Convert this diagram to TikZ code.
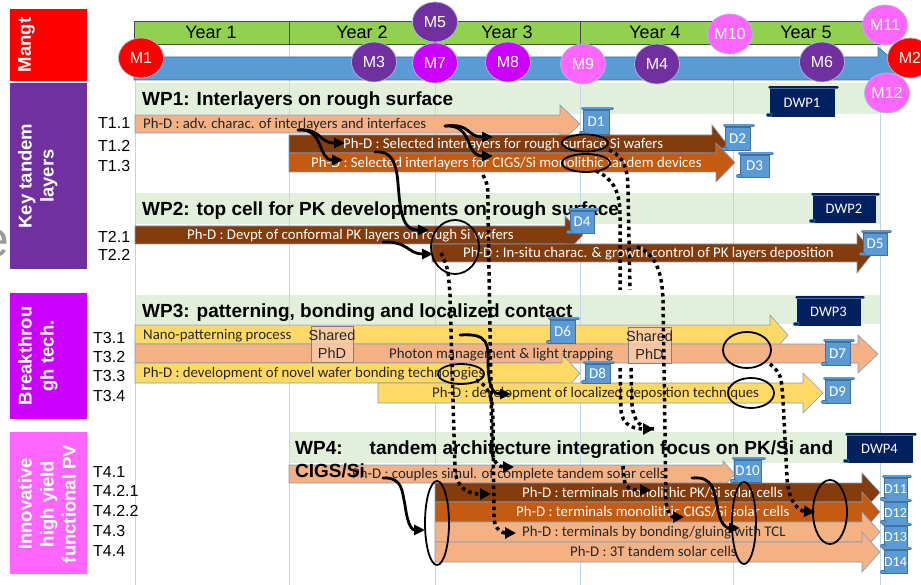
\documentclass[tikz,border=0pt]{standalone}
\usepackage{fontspec}
\setmainfont{Liberation Sans}
\newfontfamily\calfont{Carlito}
\usetikzlibrary{shapes.geometric,arrows.meta,calc}
\definecolor{cRed}{HTML}{FF0000}
\definecolor{cPurple}{HTML}{7030A0}
\definecolor{cMag}{HTML}{CC00FF}
\definecolor{cPink}{HTML}{FF66FF}
\definecolor{cYear}{HTML}{92D050}
\definecolor{cTime}{HTML}{5B9BD5}
\definecolor{cBand}{HTML}{E2EFDA}
\definecolor{cLight}{HTML}{F4B183}
\definecolor{cBrown}{HTML}{843C0C}
\definecolor{cOrange}{HTML}{C55A11}
\definecolor{cYellow}{HTML}{FFD966}
\definecolor{cDoc}{HTML}{5B9BD5}
\definecolor{cDocLine}{HTML}{41719C}
\definecolor{cNavy}{HTML}{002060}
\definecolor{cGrid}{HTML}{BDD7EE}
\definecolor{cBarLine}{HTML}{7F9DC2}
\definecolor{cShared}{HTML}{F8CBAD}
\definecolor{cDark}{HTML}{262626}
\definecolor{cMline}{HTML}{A6BEDC}
\definecolor{cGrayE}{HTML}{9A9A9A}
\definecolor{cYearLine}{HTML}{4A4A4A}
\newcommand{\ganttbar}[8]{\path[ganttbar, fill=#1] (#2,#3) -- (#5,#3) -- (#5,#6) -- (#8,{(#6+#7)/2}) -- (#5,#7) -- (#5,#4) -- (#2,#4) -- cycle;}
\tikzset{
 every node/.style={inner sep=0pt},
 mstone/.style={ellipse, minimum width=45pt, minimum height=40pt, draw=cMline, line width=0.7pt, text=white, font=\fontsize{16}{16}\selectfont, text height=11.5pt, text depth=0pt},
 sidelab/.style={rotate=90, anchor=north, text=white, align=center, font=\bfseries\fontsize{18.5}{22}\selectfont},
 yearlab/.style={font=\fontsize{18}{18}\selectfont, text height=12.9pt, text depth=0pt},
 tasklab/.style={anchor=west, font=\fontsize{16}{16}\selectfont, text height=11.5pt, text depth=0pt},
 wptitle/.style={anchor=base west, font=\bfseries\fontsize{19}{23}\selectfont},
 bartext/.style={anchor=west, font=\calfont\fontsize{14.8}{15}\selectfont, text height=9.5pt, text depth=0pt},
 dk/.style={bartext, text=cDark},
 wh/.style={bartext, text=white},
 ganttbar/.style={draw=cBarLine, line width=0.6pt},
 gridline/.style={draw=cGrid, line width=0.8pt},
 docbox/.style={rectangle, fill=cDoc, draw=cDocLine, line width=0.5pt, text=white, font=\calfont\fontsize{15}{15}\selectfont, text height=9.7pt, text depth=0pt},
 wpbox/.style={docbox, fill=cNavy, draw=cNavy, font=\calfont\fontsize{14.5}{15}\selectfont},
 docstrip/.style={draw=cDocLine, double=cDoc, double distance=2.2pt, line width=0.5pt, line cap=round},
 wpstrip/.style={draw=cDocLine, double=cNavy, double distance=2.2pt, line width=0.5pt, line cap=round},
 ell/.style={ellipse, draw=black, line width=1.8pt},
 conn/.style={draw=black, line width=2.8pt, line cap=round, -{Triangle[length=11pt,width=10pt]}},
 dline/.style={draw=black, line width=3.5pt, dash pattern=on 3.5pt off 3.5pt},
 dconn/.style={dline, -{Triangle[length=11pt,width=11pt]}},
 sharedbox/.style={rectangle, fill=cShared, fill opacity=0.8, draw=gray, line width=0.6pt},
 sharedtext/.style={align=center, font=\fontsize{14.5}{18}\selectfont, text=cDark},
}
\begin{document}
\begin{tikzpicture}[x=1pt,y=-1pt]
\useasboundingbox (0,0) rectangle (921,585);
\fill[white] (0,0) rectangle (921,585);
\node[anchor=base east, text=cGrayE, font=\fontsize{50}{50}\selectfont] (cut) at (10,257) {e};
% side boxes
\fill[cRed] (10,9) rectangle (87,81);
\fill[cPurple] (10,83) rectangle (87,269);
\fill[cMag] (10,293) rectangle (87,419);
\fill[cPink] (10,432) rectangle (87,574);
\node[sidelab] (lmangt) at (18,45) {Mangt};
\node[sidelab] (lkey) at (18,176) {Key tandem\\layers};
\node[sidelab] (lbreak) at (18,356) {Breakthrou\\gh tech.};
\node[sidelab] (linnov) at (18,504) {Innovative\\high yield\\functional PV};
% WP bands
\fill[cBand] (135,83) rectangle (880,114);
\fill[cBand] (135,193) rectangle (880,224);
\fill[cBand] (135,295) rectangle (880,324);
\fill[cBand] (289,432) rectangle (880,463);
% grid
\foreach \gx in {135,289,435,580,733,880} \draw[gridline] (\gx,44) -- (\gx,585);
% timeline
\path[fill=cTime, draw=cDocLine, line width=0.6pt] (134,57) -- (878,57) -- (878,47) -- (903,68.5) -- (878,90) -- (878,80) -- (134,80) -- cycle;
\path[fill=cYear, draw=cYearLine, line width=0.8pt] (134,21) rectangle (880,44);
\foreach \gx in {289,435,580,733} \draw[cYearLine, line width=0.8pt] (\gx,21) -- (\gx,44);
\node[yearlab] (y1) at (211,32) {Year 1};
\node[yearlab] (y2) at (362,32) {Year 2};
\node[yearlab] (y3) at (507,32) {Year 3};
\node[yearlab] (y4) at (655,32) {Year 4};
\node[yearlab] (y5) at (806,32) {Year 5};
% milestones
\node[mstone, fill=cRed] (m1) at (141,58) {M1};
\node[mstone, fill=cPurple] (m3) at (374,62) {M3};
\node[mstone, fill=cPurple] (m5) at (435,22) {M5};
\node[mstone, fill=cMag] (m7) at (435,63) {M7};
\node[mstone, fill=cMag] (m8) at (508,62) {M8};
\node[mstone, fill=cPink] (m9) at (583,64) {M9};
\node[mstone, fill=cPurple] (m4) at (657,64) {M4};
\node[mstone, fill=cPink] (m10) at (730,34) {M10};
\node[mstone, fill=cPurple] (m6) at (822,62) {M6};
\node[mstone, fill=cPink] (m11) at (885,25) {M11};
\node[mstone, fill=cRed] (m2) at (910,58) {M2};
\node[mstone, fill=cPink] (m12) at (887,93) {M12};
% bars
\ganttbar{cLight}{135}{115}{133}{560}{105}{143}{580}
\ganttbar{cBrown}{289}{135}{153}{712}{125}{163}{727}
\ganttbar{cOrange}{289}{153}{172}{716}{143}{182}{735}
\ganttbar{cBrown}{135}{226}{244}{565}{216}{254}{583}
\ganttbar{cBrown}{432}{244}{262}{857}{233}{273}{873}
\ganttbar{cYellow}{135}{325}{344}{770}{315}{355}{788}
\ganttbar{cLight}{135}{344}{363}{858}{335}{373}{878}
\ganttbar{cYellow}{135}{363}{383}{562}{354}{393}{580}
\ganttbar{cYellow}{378}{383}{403}{803}{373}{413}{823}
\ganttbar{cLight}{289}{465}{483}{723}{461}{487}{735}
\ganttbar{cBrown}{435}{483}{502}{862}{473}{512}{880}
\ganttbar{cOrange}{435}{502}{522}{862}{492}{532}{880}
\ganttbar{cLight}{435}{522}{542}{862}{512}{552}{880}
\ganttbar{cLight}{435}{542}{562}{862}{532}{572}{880}
% bar texts
\node[dk] (t11) at (143,124) {Ph-D : adv. charac. of interlayers and interfaces};
\node[wh] (t12) at (343,144) {Ph-D : Selected interlayers for rough surface Si wafers};
\node[wh] (t13) at (311,162.5) {Ph-D : Selected interlayers for CIGS/Si monolithic tandem devices};
\node[wh] (t21) at (187,235) {Ph-D : Devpt of conformal PK layers on rough Si wafers};
\node[wh] (t22) at (463,253) {Ph-D : In-situ charac. \& growth control of PK layers deposition};
\node[dk] (t31) at (143,334.5) {Nano-patterning process};
\node[dk] (t32) at (389,354) {Photon management \& light trapping};
\node[dk] (t33) at (143,373) {Ph-D : development of novel wafer bonding technologies};
\node[dk] (t34) at (432,393) {Ph-D : development of localized deposition techniques};
\node[dk] (t41) at (352,474) {Ph-D : couples simul. of complete tandem solar cells};
\node[wh] (t421) at (522,492.5) {Ph-D : terminals monolithic PK/Si solar cells};
\node[wh] (t422) at (516,512) {Ph-D : terminals monolithic CIGS/Si solar cells};
\node[dk] (t43) at (522,532) {Ph-D : terminals by bonding/gluing with TCL};
\node[dk] (t44) at (570,552) {Ph-D : 3T tandem solar cells};
% shared PhD
\node[sharedbox, minimum width=42pt, minimum height=36pt] (sh1) at (332,344) {};
\node[sharedtext] (sh1t) at (332,344) {Shared\\PhD};
\node[sharedbox, minimum width=43pt, minimum height=36pt] (sh2) at (649.5,345) {};
\node[sharedtext] (sh2t) at (649.5,345) {Shared\\PhD};
% WP titles
\node[wptitle] (wp1) at (142,106) {WP1: Interlayers on rough surface};
\node[wptitle] (wp2) at (142,216) {WP2: top cell for PK developments on rough surface};
\node[wptitle] (wp3) at (142,317) {WP3: patterning, bonding and localized contact};
\node[wptitle, anchor=north west, align=left] (wp4) at (295,441) {WP4:\hspace{27pt}tandem architecture integration focus on PK/Si and\\CIGS/Si};
% deliverables
\node[docbox, minimum width=26pt, minimum height=24pt] (d1) at (596,122) {D1};
\node[docbox, minimum width=25pt, minimum height=23pt] (d2) at (737.5,138.5) {D2};
\node[docbox, minimum width=29pt, minimum height=22pt] (d3) at (754.5,166) {D3};
\node[docbox, minimum width=24pt, minimum height=22pt] (d4) at (582,222) {D4};
\node[docbox, minimum width=24pt, minimum height=22pt] (d5) at (875,244) {D5};
\node[docbox, minimum width=25pt, minimum height=23pt] (d6) at (562.5,331.5) {D6};
\node[docbox, minimum width=25pt, minimum height=23pt] (d7) at (837.5,353.5) {D7};
\node[docbox, minimum width=25pt, minimum height=19pt] (d8) at (597.5,373.5) {D8};
\node[docbox, minimum width=25pt, minimum height=23pt] (d9) at (837.5,391.5) {D9};
\node[docbox, minimum width=27pt, minimum height=22pt] (d10) at (747.5,471) {D10};
\node[docbox, minimum width=23pt, minimum height=22pt, font=\calfont\fontsize{14}{14}\selectfont] (d11) at (895.5,489) {D11};
\node[docbox, minimum width=23pt, minimum height=21pt, font=\calfont\fontsize{14}{14}\selectfont] (d12) at (895.5,512.5) {D12};
\node[docbox, minimum width=23pt, minimum height=21pt, font=\calfont\fontsize{14}{14}\selectfont] (d13) at (895.5,536.5) {D13};
\node[docbox, minimum width=23pt, minimum height=23pt, font=\calfont\fontsize{14}{14}\selectfont] (d14) at (895.5,561.5) {D14};
\foreach \n in {d1,d2,d3,d4,d5,d6,d7,d8,d9,d10,d11,d12,d13,d14} {
  \draw[docstrip] ($(\n.north west)+(0,-1.5)$) -- ($(\n.north east)+(3,-1.5)$);
  \draw[docstrip] ($(\n.south west)+(-2,-1.2)$) -- ($(\n.south west)+(1,-1.2)$);
}
\node[wpbox, minimum width=64pt, minimum height=27pt] (dwp1) at (802,102.5) {DWP1};
\node[wpbox, minimum width=62pt, minimum height=26pt] (dwp2) at (844,209) {DWP2};
\node[wpbox, minimum width=63pt, minimum height=26pt] (dwp3) at (828.5,312) {DWP3};
\node[wpbox, minimum width=65pt, minimum height=26pt] (dwp4) at (879.5,449) {DWP4};
\foreach \n in {dwp1,dwp2,dwp3,dwp4} {
  \draw[wpstrip] ($(\n.north west)+(0,-1.5)$) -- ($(\n.north east)+(3,-1.5)$);
  \draw[wpstrip] ($(\n.south west)+(-2,-1.2)$) -- ($(\n.south west)+(1,-1.2)$);
}
% task labels
\node[tasklab] (lt11) at (98,122.5) {T1.1};
\node[tasklab] (lt12) at (98,146) {T1.2};
\node[tasklab] (lt13) at (98,166) {T1.3};
\node[tasklab] (lt21) at (98,236.5) {T2.1};
\node[tasklab] (lt22) at (98,255) {T2.2};
\node[tasklab] (lt31) at (93,337.5) {T3.1};
\node[tasklab] (lt32) at (93,357) {T3.2};
\node[tasklab] (lt33) at (93,376) {T3.3};
\node[tasklab] (lt34) at (93,396) {T3.4};
\node[tasklab] (lt41) at (93,471.5) {T4.1};
\node[tasklab] (lt421) at (93,491) {T4.2.1};
\node[tasklab] (lt422) at (93,511) {T4.2.2};
\node[tasklab] (lt43) at (93,531) {T4.3};
\node[tasklab] (lt44) at (93,551) {T4.4};
% ellipses
\node[ell, minimum width=46pt, minimum height=17pt] (e1) at (585,143) {};
\node[ell, minimum width=48pt, minimum height=18pt] (e2) at (586,163) {};
\node[ell, minimum width=48pt, minimum height=54pt] (e3) at (455,247) {};
\node[ell, minimum width=46pt, minimum height=20pt] (e4) at (461,374) {};
\node[ell, minimum width=48pt, minimum height=36pt] (e5) at (747,350) {};
\node[ell, minimum width=46pt, minimum height=30pt] (e6) at (751,393) {};
\node[ell, minimum width=24pt, minimum height=84pt] (e7) at (437,523) {};
\node[ell, minimum width=24pt, minimum height=82pt] (e8) at (744,523) {};
\node[ell, minimum width=34pt, minimum height=64pt] (e9) at (830,512) {};
% connector ends
\coordinate (a1s) at (298,130); \coordinate (a1e) at (345,143); \coordinate (a1f) at (343,160);
\coordinate (a2s) at (445,126); \coordinate (a2e) at (493,137); \coordinate (a2f) at (493,156);
\coordinate (a3s) at (375,152); \coordinate (a3e) at (429,230);
\coordinate (a4s) at (383,242); \coordinate (a4e) at (433,254);
\coordinate (a5s) at (460,335); \coordinate (a5e) at (511,394);
\coordinate (a6s) at (383,478); \coordinate (a6e) at (425,530);
\coordinate (a7s) at (692,478); \coordinate (a7e) at (740,528);
\coordinate (p1s) at (441,253); \coordinate (p1e) at (491,494);
\coordinate (p2s) at (483,175); \coordinate (p2e) at (514,467);
\coordinate (p3s) at (476,380); \coordinate (p3e) at (516,533);
\coordinate (p4s) at (609,150); \coordinate (p4e) at (630,290);
\coordinate (p5s) at (596,171); \coordinate (p5e) at (620,290);
\coordinate (p4bs) at (631,368); \coordinate (p5bs) at (620,368); \coordinate (p45e) at (654,429);
\coordinate (p6s) at (623,466); \coordinate (p6e) at (651,490);
\coordinate (p7s) at (637,247); \coordinate (p7e) at (684,517);
\coordinate (p8s) at (770,364); \coordinate (p8e) at (815,512);
% solid connectors
\draw[conn] (a1s) .. controls (322,128) and (318,143) .. (a1e);
\draw[conn] (a1s) .. controls (325,128) and (317,160) .. (a1f);
\draw[conn] (a2s) .. controls (472,123) and (466,137) .. (a2e);
\draw[conn] (a2s) .. controls (474,124) and (464,156) .. (a2f);
\draw[conn] (a3s) .. controls (398,150) and (397,175) .. (399,195) .. controls (402,228) and (410,230) .. (a3e);
\draw[conn] (a4s) .. controls (408,241) and (408,254) .. (a4e);
\draw[conn] (a5s) .. controls (490,333) and (488,345) .. (488,365) .. controls (489,392) and (495,394) .. (a5e);
\draw[conn] (a6s) .. controls (403,477) and (402,492) .. (405,505) .. controls (408,528) and (413,530) .. (a6e);
\draw[conn] (a7s) .. controls (714,476) and (714,492) .. (717,505) .. controls (720,526) and (727,528) .. (a7e);
% dotted connectors
\draw[dconn] (p1s) .. controls (448,268) .. (450,295) -- (455,470) .. controls (457,490) and (470,494) .. (p1e);
\draw[dconn] (p2s) .. controls (488,185) .. (488,210) -- (492,450) .. controls (493,464) and (500,467) .. (p2e);
\draw[dconn] (p3s) .. controls (490,386) and (493,400) .. (493,420) -- (494,518) .. controls (495,531) and (503,533) .. (p3e);
\draw[dline] (p4s) .. controls (624,156) and (628,170) .. (628,190) -- (p4e);
\draw[dline] (p5s) .. controls (612,178) and (620,190) .. (620,215) -- (p5e);
\draw[dline] (p4bs) -- (632,405) .. controls (634,422) and (640,428) .. (p45e);
\draw[dconn] (p5bs) -- (621,410) .. controls (622,426) and (635,429) .. (p45e);
\draw[dconn] (p6s) -- (624,478) .. controls (625,489) and (632,490) .. (p6e);
\draw[dconn] (p7s) .. controls (655,254) and (662,270) .. (663,300) -- (666,500) .. controls (667,514) and (672,517) .. (p7e);
\draw[dconn] (p8s) .. controls (781,374) .. (783,400) -- (787,478) .. controls (789,505) and (800,511) .. (p8e);
\end{tikzpicture}
\end{document}
